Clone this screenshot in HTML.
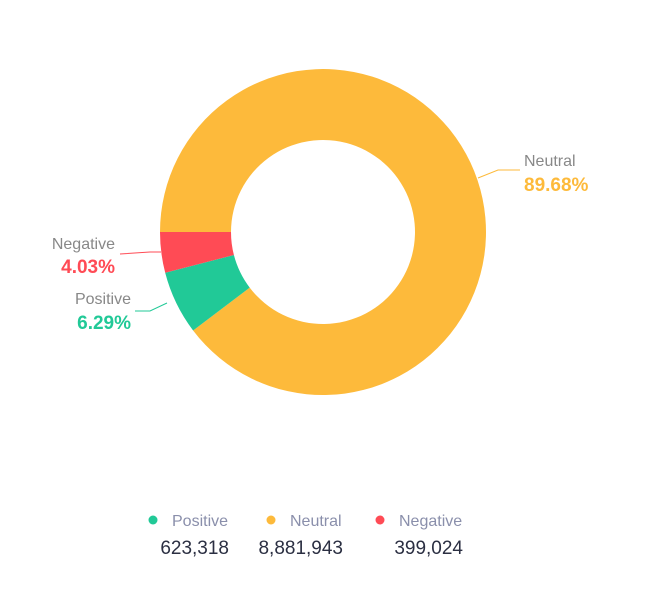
<!DOCTYPE html>
<html><head><meta charset="utf-8"><style>
body{margin:0;background:#fff;width:648px;height:591px;overflow:hidden;font-family:"Liberation Sans",sans-serif}
</style></head><body>
<svg width="648" height="591" xmlns="http://www.w3.org/2000/svg" font-family="Liberation Sans, sans-serif">
<path d="M160,232 A163,163 0 1 1 193.1,330.5 L249.7,287.6 A92,92 0 1 0 231,232 Z" fill="#FDBA3B"/>
<path d="M193.1,330.5 A163,163 0 0 1 165.2,272.8 L233.9,255 A92,92 0 0 0 249.7,287.6 Z" fill="#21C997"/>
<path d="M165.2,272.8 A163,163 0 0 1 160,232 L231,232 A92,92 0 0 0 233.9,255 Z" fill="#FF4B55"/>
<polyline points="478,178 498,170 520,170" fill="none" stroke="#FDBA3B" stroke-width="1"/>
<polyline points="161,252 150,252 120,254" fill="none" stroke="#FF4B55" stroke-width="1"/>
<polyline points="167,303 150,311 135,311" fill="none" stroke="#21C997" stroke-width="1"/>
<text x="524" y="166" font-size="16" fill="#888">Neutral</text>
<text x="524" y="191" font-size="19" font-weight="bold" fill="#FDBA3B">89.68%</text>
<text x="115" y="249" font-size="16" fill="#888" text-anchor="end">Negative</text>
<text x="115" y="273" font-size="19" font-weight="bold" fill="#FF4B55" text-anchor="end">4.03%</text>
<text x="131" y="304" font-size="16" fill="#888" text-anchor="end">Positive</text>
<text x="131" y="329" font-size="19" font-weight="bold" fill="#21C997" text-anchor="end">6.29%</text>
<circle cx="153" cy="520" r="4.5" fill="#21C997"/>
<circle cx="271" cy="520" r="4.5" fill="#FDBA3B"/>
<circle cx="380" cy="520" r="4.5" fill="#FF4B55"/>
<text x="172" y="526" font-size="16" fill="#8a8fab">Positive</text>
<text x="290" y="526" font-size="16" fill="#8a8fab">Neutral</text>
<text x="399" y="526" font-size="16" fill="#8a8fab">Negative</text>
<text x="229" y="554" font-size="19" fill="#2b2f42" text-anchor="end">623,318</text>
<text x="343" y="554" font-size="19" fill="#2b2f42" text-anchor="end">8,881,943</text>
<text x="463" y="554" font-size="19" fill="#2b2f42" text-anchor="end">399,024</text>
</svg>
</body></html>
